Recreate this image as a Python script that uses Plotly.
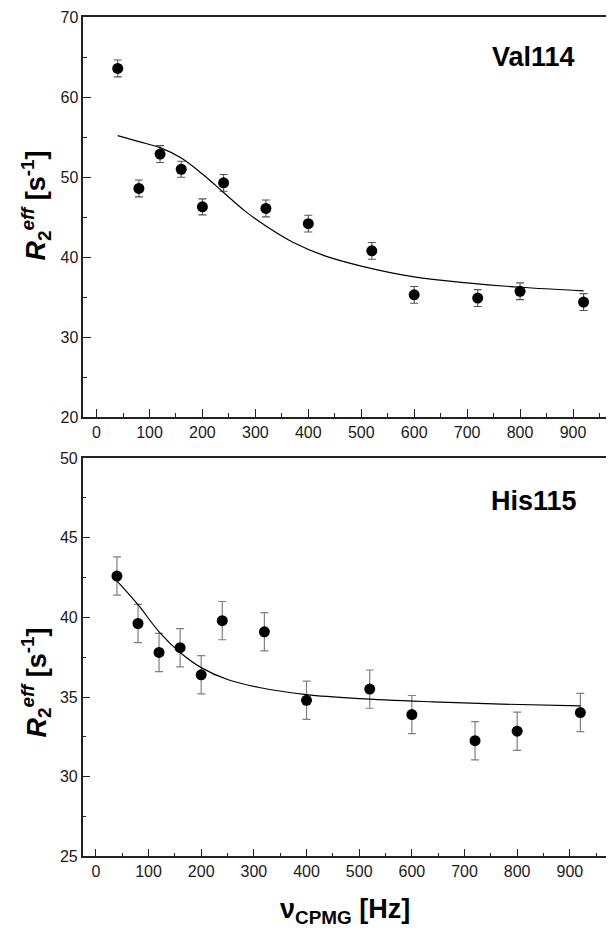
import plotly.graph_objects as go

# ---- data ----
nu_cpmg = [40, 80, 120, 160, 200, 240, 320, 400, 520, 600, 720, 800, 920]

val114_r2 = [63.6, 48.6, 52.9, 51.0, 46.3, 49.3, 46.1, 44.2, 40.8, 35.3, 34.9, 35.75, 34.4]
val114_err = [1.05, 1.05, 1.05, 1.0, 1.0, 1.05, 1.05, 1.05, 1.05, 1.05, 1.05, 1.05, 1.05]
val114_fit_x = [40, 80, 120, 160, 200, 240, 280, 320, 370, 430, 500, 600, 700, 800, 920]
val114_fit_y = [55.2, 54.45, 53.7, 52.4, 50.4, 48.1, 45.8, 43.9, 41.9, 40.2, 38.9, 37.55, 36.8, 36.25, 35.8]

his115_r2 = [42.6, 39.62, 37.8, 38.1, 36.4, 39.8, 39.1, 34.8, 35.5, 33.9, 32.26, 32.86, 34.03]
his115_err = [1.2, 1.2, 1.2, 1.2, 1.2, 1.2, 1.2, 1.2, 1.2, 1.2, 1.2, 1.2, 1.2]
his115_fit_x = [40, 80, 120, 160, 200, 250, 310, 400, 500, 640, 770, 920]
his115_fit_y = [42.3, 40.8, 39.1, 37.8, 36.85, 36.1, 35.6, 35.15, 34.9, 34.7, 34.56, 34.45]

x_ticks = [0, 100, 200, 300, 400, 500, 600, 700, 800, 900]

# page body has an 8px default margin, so the figure is drawn 8px in from the window edge
OFF = 8
W, H = 614 - OFF, 938 - OFF
FONT = "Liberation Sans, Arial, sans-serif"

fig = go.Figure()

marker_style = dict(symbol="circle", size=11, color="black")

fig.add_trace(go.Scatter(x=nu_cpmg, y=val114_r2, mode="markers", marker=marker_style,
                         error_y=dict(type="data", array=val114_err, color="#555555", thickness=1.1, width=4),
                         xaxis="x", yaxis="y", showlegend=False))
fig.add_trace(go.Scatter(x=val114_fit_x, y=val114_fit_y, mode="lines",
                         line=dict(color="black", width=1.2, shape="spline"),
                         xaxis="x", yaxis="y", showlegend=False))
fig.add_trace(go.Scatter(x=nu_cpmg, y=his115_r2, mode="markers", marker=marker_style,
                         error_y=dict(type="data", array=his115_err, color="#808080", thickness=1.2, width=4),
                         xaxis="x2", yaxis="y2", showlegend=False))
fig.add_trace(go.Scatter(x=his115_fit_x, y=his115_fit_y, mode="lines",
                         line=dict(color="black", width=1.2, shape="spline"),
                         xaxis="x2", yaxis="y2", showlegend=False))


def px_x(p):
    return (p - OFF) / W


def px_y(p):
    return (H - (p - OFF)) / H


axis_common = dict(showline=True, linecolor="#222222", linewidth=1.5, mirror=True,
                   ticks="inside", tickcolor="#222222", tickwidth=1.3, ticklen=8,
                   showgrid=False, zeroline=False,
                   tickfont=dict(family=FONT, size=16, color="#1a1a1a"))

xaxis_common = dict(axis_common, range=[-25, 975], tickvals=x_ticks,
                    minor=dict(dtick=50, ticks="inside", ticklen=4, tickcolor="#222222", tickwidth=1.2))

fig.update_layout(
    width=W, height=H,
    margin=dict(l=0, r=0, t=0, b=0),
    paper_bgcolor="white", plot_bgcolor="white",
    xaxis=dict(xaxis_common, domain=[px_x(83.3), px_x(612.7)], anchor="y"),
    yaxis=dict(axis_common, domain=[px_y(416.7), px_y(9.3)], anchor="x",
               range=[20, 70], dtick=10,
               minor=dict(dtick=5, ticks="inside", ticklen=4, tickcolor="#222222", tickwidth=1.2)),
    xaxis2=dict(xaxis_common, domain=[px_x(82.7), px_x(606.7)], anchor="y2", range=[-25, 970]),
    yaxis2=dict(axis_common, domain=[px_y(864), px_y(458.4)], anchor="x2",
                range=[25, 50], dtick=5,
                minor=dict(dtick=2.5, ticks="inside", ticklen=4, tickcolor="#222222", tickwidth=1.2)),
)

ytitle = "<b><i>R</i><sub>2</sub><sup><i>eff</i></sup> [s<sup>-1</sup>]</b>"
ann_font = dict(family=FONT, size=27, color="black")
fig.add_annotation(text=ytitle, x=px_x(36), y=px_y(201), xref="paper", yref="paper",
                   textangle=-90, showarrow=False, font=ann_font, xanchor="center", yanchor="middle")
fig.add_annotation(text=ytitle, x=px_x(36), y=px_y(687), xref="paper", yref="paper",
                   textangle=-90, showarrow=False, font=ann_font, xanchor="center", yanchor="middle")
fig.add_annotation(text="<b>ν<sub>CPMG</sub> [Hz]</b>", x=px_x(345), y=px_y(920), xref="paper", yref="paper",
                   showarrow=False, font=dict(family=FONT, size=27, color="black"),
                   xanchor="center", yanchor="middle")
fig.add_annotation(text="<b>Val114</b>", x=px_x(533), y=px_y(50), xref="paper", yref="paper",
                   showarrow=False, font=dict(family=FONT, size=27, color="black"),
                   xanchor="center", yanchor="middle")
fig.add_annotation(text="<b>His115</b>", x=px_x(534), y=px_y(502), xref="paper", yref="paper",
                   showarrow=False, font=dict(family=FONT, size=27, color="black"),
                   xanchor="center", yanchor="middle")

fig.write_html("out.html")
